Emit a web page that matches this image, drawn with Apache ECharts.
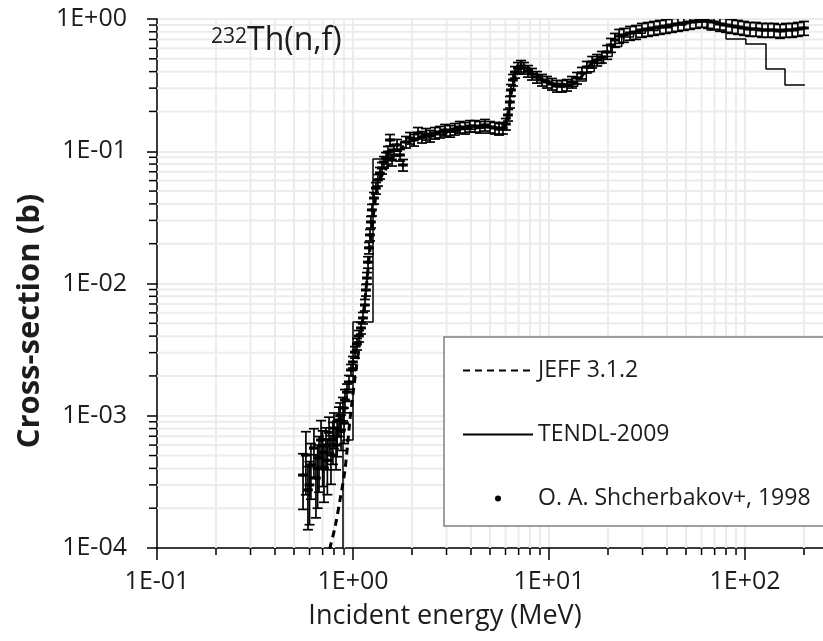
<!DOCTYPE html>
<html>
<head>
<meta charset="utf-8">
<script src="https://cdn.jsdelivr.net/npm/echarts@6/dist/echarts.min.js"></script>
<style>
  html, body { margin: 0; padding: 0; background: #ffffff; }
  #chart { width: 823px; height: 641px; }
</style>
</head>
<body>
<div id="chart"></div>
<script>
// 232Th(n,f) fission cross-section: evaluations vs. measurement

// Axis tick labels (one per decade)
const xTickLabels = ['1E-01', '1E+00', '1E+01', '1E+02', '1E+03'];
const yTickLabels = ['1E-04', '1E-03', '1E-02', '1E-01', '1E+00'];

// JEFF 3.1.2 evaluation: [energy MeV, cross-section b]
const jeffPoints = [
  [0.74, 8.0e-5], [0.763, 1.0e-4], [0.81, 1.44e-4], [0.858, 2.3e-4], [0.91, 3.9e-4],
  [0.965, 9.3e-4], [1.02, 1.85e-3], [1.085, 3.7e-3], [1.15, 7.5e-3], [1.22, 1.8e-2],
  [1.30, 4.3e-2], [1.37, 6.1e-2], [1.46, 7.2e-2], [1.64, 9.4e-2], [2.0, 0.122],
  [2.5, 0.133], [3.0, 0.140], [4.0, 0.150], [5.0, 0.152], [5.8, 0.150], [6.2, 0.20],
  [6.5, 0.30], [7.0, 0.42], [7.5, 0.43], [8.5, 0.38], [10, 0.33], [12, 0.31],
  [14, 0.34], [16, 0.44], [18, 0.50], [20, 0.57]
];

// TENDL-2009 evaluation, group-wise: [lower energy MeV, cross-section b]
const tendlSteps = [
  [0.60, 5e-5], [0.889, 6.56e-4], [1.0, 5.12e-3], [1.265, 0.0874], [1.50, 0.100],
  [1.75, 0.118], [2.0, 0.126], [2.5, 0.133], [3.0, 0.140], [3.5, 0.146], [4.0, 0.150],
  [4.5, 0.152], [5.0, 0.150], [5.5, 0.147], [6.0, 0.175], [6.3, 0.29], [6.6, 0.40],
  [7.0, 0.43], [8.0, 0.38], [9.0, 0.345], [10, 0.325], [12, 0.31], [14, 0.34],
  [15.5, 0.40], [17, 0.46], [19, 0.52], [21, 0.62], [23.5, 0.73], [27, 0.78],
  [31, 0.82], [36, 0.86], [42, 0.90], [50, 0.94], [57, 0.955], [64, 0.826],
  [80, 0.706], [101, 0.647], [128, 0.419], [160, 0.317], [202, 0.317]
];

// O. A. Shcherbakov et al., 1998: [energy MeV, cross-section b, relative uncertainty]
const shcherbakovPoints = [
  [0.556, 3.56e-4, 0.45], [0.575, 5.05e-4, 0.5], [0.589, 2.75e-4, 0.5], [0.600, 3.0e-4, 0.5],
  [0.610, 4.25e-4, 0.45], [0.632, 5.7e-4, 0.4], [0.647, 3.38e-4, 0.5], [0.660, 4.0e-4, 0.5],
  [0.671, 4.8e-4, 0.45], [0.687, 6.56e-4, 0.4], [0.700, 5.3e-4, 0.45], [0.711, 4.03e-4, 0.45],
  [0.728, 6.0e-4, 0.35], [0.740, 4.6e-4, 0.45], [0.755, 7.5e-4, 0.3], [0.772, 5.05e-4, 0.4],
  [0.790, 6.6e-4, 0.35], [0.800, 8.07e-4, 0.3], [0.819, 6.0e-4, 0.35], [0.830, 7.0e-4, 0.3],
  [0.848, 9.29e-4, 0.25], [0.860, 1.0e-3, 0.25], [0.869, 7.8e-4, 0.3], [0.889, 1.145e-3, 0.2],
  [0.900, 8.8e-4, 0.3], [0.910, 1.315e-3, 0.2], [0.932, 1.51e-3, 0.15], [0.954, 1.80e-3, 0.12],
  [0.977, 2.22e-3, 0.1], [1.000, 2.55e-3, 0.1], [1.024, 3.03e-3, 0.1], [1.048, 3.49e-3, 0.1],
  [1.073, 4.01e-3, 0.1], [1.099, 4.61e-3, 0.1], [1.125, 5.49e-3, 0.1], [1.151, 6.88e-3, 0.1],
  [1.165, 8.93e-3, 0.1], [1.179, 1.10e-2, 0.1], [1.193, 1.45e-2, 0.1], [1.207, 1.86e-2, 0.1],
  [1.221, 2.33e-2, 0.1], [1.235, 2.92e-2, 0.1], [1.250, 3.60e-2, 0.1], [1.280, 4.43e-2, 0.1],
  [1.310, 5.27e-2, 0.1], [1.341, 6.06e-2, 0.1], [1.373, 6.85e-2, 0.1], [1.406, 7.47e-2, 0.1],
  [1.439, 8.29e-2, 0.1], [1.474, 8.89e-2, 0.1], [1.509, 9.87e-2, 0.1], [1.545, 0.1216, 0.1],
  [1.582, 8.59e-2, 0.1], [1.619, 0.1022, 0.1], [1.677, 0.1115, 0.1], [1.738, 9.37e-2, 0.1],
  [1.799, 7.87e-2, 0.1], [1.864, 0.1175, 0.1], [1.954, 0.1259, 0.1], [2.048, 0.1216, 0.1],
  [2.146, 0.1374, 0.1], [2.249, 0.1282, 0.1], [2.357, 0.1350, 0.1], [2.471, 0.1304, 0.1],
  [2.62, 0.1374, 0.1], [2.78, 0.140, 0.1], [2.95, 0.1448, 0.1], [3.13, 0.142, 0.1],
  [3.31, 0.1473, 0.1], [3.51, 0.1525, 0.1], [3.73, 0.1499, 0.1], [3.95, 0.155, 0.1],
  [4.19, 0.155, 0.1], [4.44, 0.1525, 0.1], [4.71, 0.158, 0.1], [5.00, 0.1525, 0.1],
  [5.30, 0.150, 0.1], [5.56, 0.1473, 0.1], [5.82, 0.150, 0.1], [6.03, 0.1607, 0.1],
  [6.18, 0.188, 0.1], [6.32, 0.2357, 0.1], [6.40, 0.2906, 0.1], [6.55, 0.346, 0.1],
  [6.71, 0.397, 0.1], [6.95, 0.426, 0.1], [7.20, 0.441, 0.1], [7.45, 0.426, 0.1],
  [7.81, 0.404, 0.1], [8.19, 0.384, 0.1], [8.68, 0.364, 0.1], [9.21, 0.346, 0.1],
  [9.77, 0.334, 0.1], [10.36, 0.3225, 0.1], [10.98, 0.3114, 0.1], [11.65, 0.3114, 0.1],
  [12.35, 0.317, 0.1], [13.1, 0.334, 0.1], [13.9, 0.358, 0.1], [14.73, 0.391, 0.1],
  [15.6, 0.434, 0.1], [16.6, 0.473, 0.1], [17.6, 0.490, 0.1], [18.6, 0.516, 0.1],
  [19.8, 0.563, 0.12], [20.7, 0.636, 0.12], [21.7, 0.694, 0.12], [22.8, 0.744, 0.12],
  [24.1, 0.757, 0.12], [25.9, 0.784, 0.12], [27.8, 0.797, 0.12], [29.8, 0.826, 0.12],
  [32.0, 0.840, 0.12], [34.3, 0.855, 0.12], [36.8, 0.870, 0.12], [39.5, 0.885, 0.12],
  [42.4, 0.901, 0.12], [45.5, 0.917, 0.12], [48.8, 0.933, 0.12], [52.4, 0.949, 0.12],
  [56.2, 0.966, 0.12], [60.3, 0.983, 0.12], [64.7, 0.966, 0.12], [69.5, 0.949, 0.12],
  [74.5, 0.917, 0.12], [80.0, 0.901, 0.12], [85.9, 0.885, 0.12], [92.1, 0.870, 0.12],
  [98.9, 0.855, 0.12], [106.1, 0.840, 0.12], [113.8, 0.840, 0.12], [122.2, 0.826, 0.12],
  [131, 0.826, 0.12], [140.6, 0.826, 0.12], [151, 0.812, 0.12], [162, 0.826, 0.12],
  [174, 0.826, 0.12], [186, 0.840, 0.12], [200, 0.855, 0.12]
];

const X_MIN = 0.1, X_MAX = 1000, Y_MIN = 1e-4, Y_MAX = 1;
const FONT = '"Open Sans", "Noto Sans", sans-serif';
const INK = '#1c1c1c';
const GRID_GRAY = '#ececec';

// minor grid values (2..9 within each decade)
const minorX = [];
for (let d = -1; d <= 2; d++) for (let m = 2; m <= 9; m++) minorX.push([m * Math.pow(10, d), Y_MIN]);
const minorY = [];
for (let d = -4; d <= -1; d++) for (let m = 2; m <= 9; m++) minorY.push([X_MIN, m * Math.pow(10, d)]);

function expLabel(labels, first) {
  return function (v) {
    const k = Math.round(Math.log10(v)) - first;
    return labels[k] !== undefined ? labels[k] : '';
  };
}

const chart = echarts.init(document.getElementById('chart'), null, { renderer: 'canvas' });

const option = {
  backgroundColor: '#ffffff',
  animation: false,
  // the energy axis runs to 1E+03, past the right edge of the page
  grid: { left: 157, top: 19, width: 784, height: 529, containLabel: false, outerBoundsMode: 'none' },
  xAxis: {
    type: 'log', logBase: 10, min: X_MIN, max: X_MAX,
    axisLine: { show: true, lineStyle: { color: '#000', width: 1.5 } },
    axisTick: { show: true, inside: false, length: 12, lineStyle: { color: '#000', width: 1.5 } },
    axisLabel: { formatter: expLabel(xTickLabels, -1), fontFamily: FONT, fontSize: 25, color: INK, margin: 21 },
    splitLine: { show: true, lineStyle: { color: GRID_GRAY, width: 2 } }
  },
  yAxis: {
    type: 'log', logBase: 10, min: Y_MIN, max: Y_MAX,
    axisLine: { show: true, lineStyle: { color: '#000', width: 1.5 } },
    axisTick: { show: true, inside: false, length: 10, lineStyle: { color: '#000', width: 1.5 } },
    axisLabel: { formatter: expLabel(yTickLabels, -4), fontFamily: FONT, fontSize: 25, color: INK, margin: 30 },
    splitLine: { show: true, lineStyle: { color: GRID_GRAY, width: 2 } }
  },
  legend: {
    orient: 'vertical', left: 444, top: 337, z: 20,
    padding: [22, 30, 16, 18],
    itemWidth: 70, itemHeight: 6, itemGap: 41,
    borderColor: '#808080', borderWidth: 1.5, backgroundColor: '#ffffff',
    textStyle: { fontFamily: FONT, fontSize: 23, color: INK },
    data: [
      { name: 'JEFF 3.1.2', itemStyle: { opacity: 0 } },
      { name: 'TENDL-2009', itemStyle: { opacity: 0 } },
      { name: 'O. A. Shcherbakov+, 1998', icon: 'circle' }
    ]
  },
  graphic: [
    { type: 'text', z: 20, left: 211, top: 27, style: { text: '232', font: '21px ' + FONT, fill: INK } },
    { type: 'text', z: 20, left: 247, top: 25, style: { text: 'Th(n,f)', font: '32px ' + FONT, fill: INK } },
    { type: 'text', z: 20, x: 445, y: 616, style: { text: 'Incident energy (MeV)', font: '27px ' + FONT, fill: INK, align: 'center', verticalAlign: 'middle' } },
    { type: 'text', z: 20, x: 30, y: 321, rotation: Math.PI / 2, style: { text: 'Cross-section (b)', font: 'bold 31px ' + FONT, fill: INK, align: 'center', verticalAlign: 'middle' } }
  ],
  series: [
    {
      // minor vertical grid lines and x minor ticks
      type: 'custom', silent: true, clip: false, z: 1,
      encode: { x: 0, y: 1 },
      data: minorX,
      renderItem: function (params, api) {
        const v = api.value(0);
        const b = api.coord([v, Y_MIN]);
        const t = api.coord([v, Y_MAX]);
        return { type: 'group', children: [
          { type: 'line', shape: { x1: b[0], y1: t[1], x2: b[0], y2: b[1] }, style: { stroke: GRID_GRAY, lineWidth: 2 } },
          { type: 'line', shape: { x1: b[0], y1: b[1], x2: b[0], y2: b[1] + 7 }, style: { stroke: '#000', lineWidth: 1.5 } }
        ] };
      }
    },
    {
      // minor horizontal grid lines and y minor ticks
      type: 'custom', silent: true, clip: false, z: 1,
      encode: { x: 0, y: 1 },
      data: minorY,
      renderItem: function (params, api) {
        const v = api.value(1);
        const l = api.coord([X_MIN, v]);
        const r = api.coord([X_MAX, v]);
        return { type: 'group', children: [
          { type: 'line', shape: { x1: l[0], y1: l[1], x2: r[0], y2: l[1] }, style: { stroke: GRID_GRAY, lineWidth: 2 } },
          { type: 'line', shape: { x1: l[0] - 8, y1: l[1], x2: l[0], y2: l[1] }, style: { stroke: '#000', lineWidth: 1.5 } }
        ] };
      }
    },
    {
      name: 'TENDL-2009', type: 'line', step: 'end', symbol: 'none', z: 3,
      data: tendlSteps,
      lineStyle: { color: '#000', width: 1.5 },
      itemStyle: { color: '#000' }
    },
    {
      name: 'JEFF 3.1.2', type: 'line', symbol: 'none', smooth: 0.3, z: 4,
      data: jeffPoints,
      lineStyle: { color: '#000', width: 3, type: [7, 5] },
      itemStyle: { color: '#000' }
    },
    {
      name: 'O. A. Shcherbakov+, 1998', type: 'custom', z: 5, clip: true,
      encode: { x: 0, y: 1 },
      data: shcherbakovPoints,
      itemStyle: { color: '#000' },
      renderItem: function (params, api) {
        const e = api.value(0), s = api.value(1), u = api.value(2);
        const c = api.coord([e, s]);
        const t = api.coord([e, s * (1 + u)]);
        const b = api.coord([e, s * (1 - u)]);
        const l = api.coord([e * 0.96, s]);
        const r = api.coord([e * 1.04, s]);
        const st = { stroke: '#000', lineWidth: 1.7 };
        return { type: 'group', children: [
          { type: 'line', shape: { x1: c[0], y1: t[1], x2: c[0], y2: b[1] }, style: st },
          { type: 'line', shape: { x1: c[0] - 5, y1: t[1], x2: c[0] + 5, y2: t[1] }, style: st },
          { type: 'line', shape: { x1: c[0] - 5, y1: b[1], x2: c[0] + 5, y2: b[1] }, style: st },
          { type: 'line', shape: { x1: l[0] - 1.5, y1: c[1], x2: r[0] + 1.5, y2: c[1] }, style: { stroke: '#000', lineWidth: 3 } },
          { type: 'circle', shape: { cx: c[0], cy: c[1], r: 2 }, style: { fill: '#000' } }
        ] };
      }
    }
  ]
};

chart.setOption(option);
</script>
</body>
</html>
